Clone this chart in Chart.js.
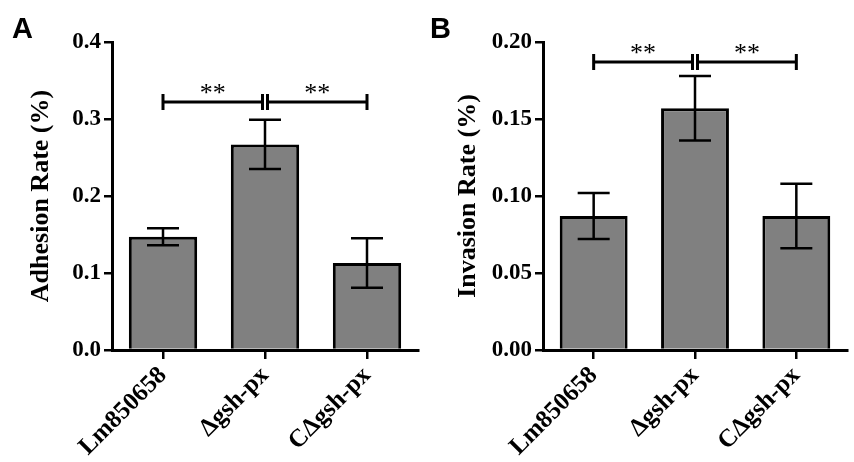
<!DOCTYPE html>
<html lang=en>

<head>
    <meta charset=UTF-8>
    <title>Adhesion and invasion rate</title>
    <style>
        * {
            margin: 0;
            padding: 0;
        }

        body {
            background: #fff;
            width: 854px;
            height: 462px;
            position: relative;
            overflow: hidden;
        }

        .panel {
            position: absolute;
            top: 0;
        }
    </style>
</head>

<body>
    <canvas class=panel id="chartA" width=427 height=462 style="left:0"></canvas>
    <canvas class=panel id="chartB" width=427 height=462 style="left:427px"></canvas>
    <script src="https://cdn.jsdelivr.net/npm/chart.js"></script>
    <script>
        const strains = ['Lm850658', 'Δgsh-px', 'CΔgsh-px']

        const adhesion = [0.147, 0.267, 0.113]
        const adhesionErr = [0.011, 0.032, 0.032]
        const adhesionTicks = ['0.0', '0.1', '0.2', '0.3', '0.4']
        const adhesionSig = 0.322

        const invasion = [0.087, 0.157, 0.087]
        const invasionErr = [0.015, 0.021, 0.021]
        const invasionTicks = ['0.00', '0.05', '0.10', '0.15', '0.20']
        const invasionSig = 0.187

        // pairs compared, both marked **
        const comparisons = [[0, 1], [1, 2]]

        const serif = "'Liberation Serif', 'Times New Roman', serif"

        // error bars, significance brackets and the panel letter
        const extras = {
            id: 'extras',
            afterDatasetsDraw(chart, args, opts) {
                const ctx = chart.ctx
                const y = chart.scales.y
                const bars = chart.getDatasetMeta(0).data
                ctx.save()
                ctx.strokeStyle = '#000'
                ctx.lineWidth = 2.5
                opts.values.forEach((v, i) => {
                    const x = bars[i].x
                    const top = y.getPixelForValue(v + opts.errors[i])
                    const bottom = y.getPixelForValue(v - opts.errors[i])
                    ctx.beginPath()
                    ctx.moveTo(x, top)
                    ctx.lineTo(x, bottom)
                    ctx.moveTo(x - 16, top)
                    ctx.lineTo(x + 16, top)
                    ctx.moveTo(x - 16, bottom)
                    ctx.lineTo(x + 16, bottom)
                    ctx.stroke()
                })

                const by = y.getPixelForValue(opts.sig)
                ctx.lineWidth = 3
                ctx.fillStyle = '#000'
                ctx.font = "26px " + serif
                ctx.textAlign = 'center'
                ctx.textBaseline = 'alphabetic'
                comparisons.forEach(([a, b]) => {
                    const x1 = bars[a].x + (a === 1 ? 2.5 : 0)
                    const x2 = bars[b].x - (b === 1 ? 2.5 : 0)
                    ctx.beginPath()
                    ctx.moveTo(x1, by)
                    ctx.lineTo(x2, by)
                    ctx.moveTo(x1, by - 8)
                    ctx.lineTo(x1, by + 8)
                    ctx.moveTo(x2, by - 8)
                    ctx.lineTo(x2, by + 8)
                    ctx.stroke()
                    ctx.fillText('**', (x1 + x2) / 2, by - 1)
                })

                ctx.font = "bold 29px 'Liberation Sans', Arial, sans-serif"
                ctx.textAlign = 'left'
                ctx.fillText(opts.letter, opts.letterX, 38)
                ctx.restore()
            }
        }

        function makeChart(id, values, errors, ticks, sig, title, letter, letterX, yWidth, rightPad) {
            return new Chart(document.getElementById(id), {
                type: 'bar',
                data: {
                    labels: strains,
                    datasets: [{
                        data: values,
                        backgroundColor: '#808080',
                        borderColor: '#000',
                        borderWidth: 3,
                        categoryPercentage: 1,
                        barPercentage: 0.67
                    }]
                },
                options: {
                    responsive: false,
                    animation: false,
                    layout: {
                        padding: { top: 42, right: rightPad, left: 0, bottom: 0 }
                    },
                    plugins: {
                        legend: { display: false },
                        tooltip: { enabled: false },
                        extras: { values, errors, sig, letter, letterX }
                    },
                    scales: {
                        x: {
                            afterFit: s => { s.height = 112 },
                            border: { display: true, color: '#000', width: 3 },
                            grid: {
                                offset: false,
                                drawOnChartArea: false,
                                color: '#000',
                                lineWidth: 2.5,
                                tickLength: 9
                            },
                            ticks: {
                                autoSkip: false,
                                minRotation: 45,
                                maxRotation: 45,
                                color: '#000',
                                padding: 2,
                                font: { family: serif, weight: 'bold', size: 25 }
                            }
                        },
                        y: {
                            min: 0,
                            max: sig > 0.25 ? 0.4 : 0.2,
                            afterFit: s => { s.width = yWidth },
                            border: { display: true, color: '#000', width: 3 },
                            grid: {
                                drawOnChartArea: false,
                                color: '#000',
                                lineWidth: 2.5,
                                tickLength: 8
                            },
                            ticks: {
                                stepSize: sig > 0.25 ? 0.1 : 0.05,
                                color: '#000',
                                padding: 3,
                                font: { family: serif, weight: 'bold', size: 23 },
                                callback: (v, i) => ticks[i]
                            },
                            title: {
                                display: true,
                                text: title,
                                color: '#000',
                                padding: { top: 26, bottom: 0 },
                                font: { family: serif, weight: 'bold', size: 26 }
                            }
                        }
                    }
                },
                plugins: [extras]
            })
        }

        makeChart('chartA', adhesion, adhesionErr, adhesionTicks, adhesionSig,
            'Adhesion Rate (%)', 'A', 12, 112, 9)
        makeChart('chartB', invasion, invasionErr, invasionTicks, invasionSig,
            'Invasion Rate (%)', 'B', 3, 116, 7)
    </script>

</body>

</html>
